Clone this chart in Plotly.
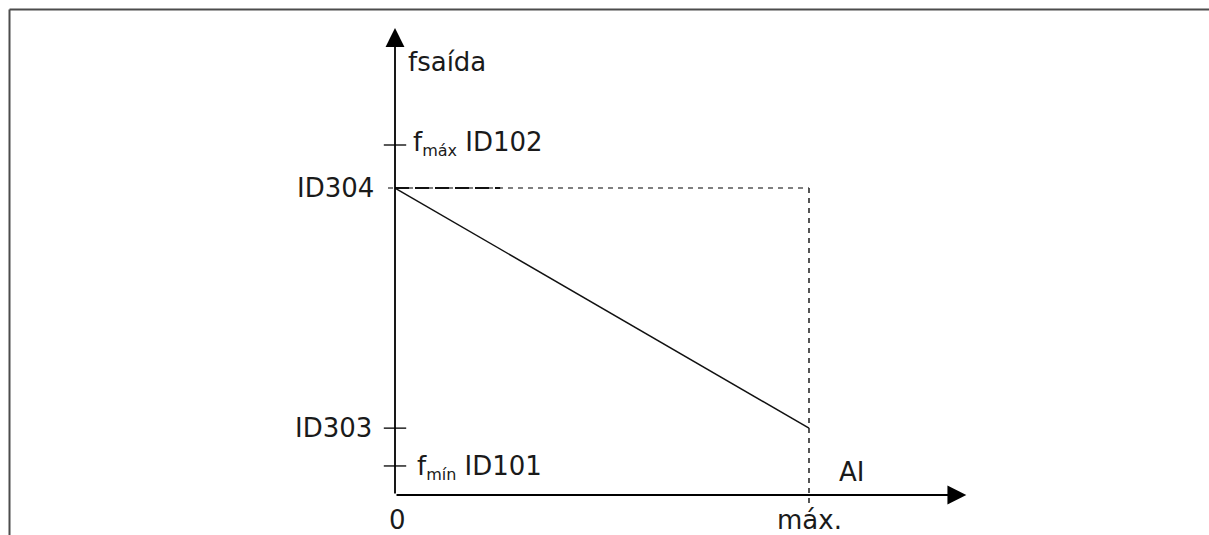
import plotly.graph_objects as go

# ---- data (arbitrary units) ----
x_points = [0, 1]                 # 0 and "máx." of the AI input
x_labels = ["0", "máx."]
y_fmin = 8.3                      # f_mín  ID101
y_id303 = 19.1                    # ID303
y_id304 = 87.7                    # ID304
y_fmax = 100.0                    # f_máx  ID102
line_y = [y_id304, y_id303]       # inverted scaling line
tick_values = [y_fmax, y_id303, y_fmin]
x_axis_end = 1.38
y_axis_top = 133.4
y_dash_bottom = -3.4
long_dash_end = 0.254

# ---- layout geometry (pixel mapping) ----
W, H = 1209, 535
px_x0, px_x1 = 395.0, 809.0       # pixel of x=0 and x=1
px_y0, px_y100 = 495.0, 145.0     # pixel of y=0 and y=100
sx = px_x1 - px_x0
sy = (px_y0 - px_y100) / 100.0
xr = [-px_x0 / sx, (W - px_x0) / sx]
ytop = px_y0 / sy
yr = [ytop - H / sy, ytop]

FONT = "DejaVu Sans"
FS = 26
TXT = "#1a1a1a"

fig = go.Figure()

# gray short-dash horizontal at ID304 (from just left of axis to max)
fig.add_trace(go.Scatter(x=[-7 / sx, x_points[1]], y=[y_id304, y_id304], mode="lines",
                         line=dict(color="#555555", width=1.6, dash="5px,5px"),
                         hoverinfo="skip", showlegend=False))
# vertical dashed line at max
fig.add_trace(go.Scatter(x=[x_points[1], x_points[1]], y=[y_id304, y_dash_bottom], mode="lines",
                         line=dict(color="#444444", width=1.8, dash="5px,5px"),
                         hoverinfo="skip", showlegend=False))
# black long-dash segment near axis
fig.add_trace(go.Scatter(x=[0, long_dash_end], y=[y_id304, y_id304], mode="lines",
                         line=dict(color="#111111", width=2, dash="14px,6px"),
                         hoverinfo="skip", showlegend=False))
# the characteristic line
fig.add_trace(go.Scatter(x=x_points, y=line_y, mode="lines",
                         line=dict(color="#111111", width=1.5),
                         hoverinfo="skip", showlegend=False))
# tick marks on the y axis
fig.add_trace(go.Scatter(x=[0] * len(tick_values), y=tick_values, mode="markers",
                         marker=dict(symbol="line-ew-open", size=16, color="#222222",
                                     line=dict(color="#222222", width=1.5)),
                         hoverinfo="skip", showlegend=False))

SUB = "<sub><span style='font-size:16px'>{}</span></sub>"

annotations = [
    # axes with arrowheads
    dict(x=0, y=y_axis_top, ax=0, ay=0, xref="x", yref="y", axref="x", ayref="y",
         text="", showarrow=True, arrowhead=2, arrowwidth=1.8, arrowsize=2.1,
         arrowcolor="#000000", standoff=0, startstandoff=0),
    dict(x=x_axis_end, y=0, ax=0, ay=0, xref="x", yref="y", axref="x", ayref="y",
         text="", showarrow=True, arrowhead=2, arrowwidth=1.8, arrowsize=2.1,
         arrowcolor="#000000", standoff=0, startstandoff=0),
    # labels
    dict(x=0, y=y_axis_top, text="fsaída", xanchor="left", yanchor="middle",
         xshift=11, yshift=-34),
    dict(x=0, y=y_fmax, text="f" + SUB.format("máx") + " ID102", xanchor="left",
         yanchor="middle", xshift=16, yshift=2),
    dict(x=0, y=y_id304, text="ID304", xanchor="right", yanchor="middle", xshift=-19),
    dict(x=0, y=y_id303, text="ID303", xanchor="right", yanchor="middle", xshift=-21),
    dict(x=0, y=y_fmin, text="f" + SUB.format("mín") + " ID101", xanchor="left",
         yanchor="middle", xshift=20, yshift=-2),
    dict(x=x_points[0], y=0, text=x_labels[0], xanchor="center", yanchor="top", yshift=-8, xshift=2),
    dict(x=x_points[1], y=0, text=x_labels[1], xanchor="center", yanchor="top", yshift=-8),
    dict(x=x_points[1], y=0, text="AI", xanchor="center", yanchor="middle", xshift=42, yshift=23),
]
for a in annotations:
    a.setdefault("xref", "x")
    a.setdefault("yref", "y")
    if a["text"]:
        a["showarrow"] = False
        a["font"] = dict(family=FONT, size=FS, color=TXT)
    fig.add_annotation(**a)

# frame: top and left border lines
fig.add_shape(type="line", xref="paper", yref="paper",
              x0=9.5 / W, x1=1.0, y0=1 - 9.5 / H, y1=1 - 9.5 / H,
              line=dict(color="#4d4d4d", width=2))
fig.add_shape(type="line", xref="paper", yref="paper",
              x0=9.5 / W, x1=9.5 / W, y0=1 - 9.5 / H, y1=0,
              line=dict(color="#4d4d4d", width=2))

fig.update_layout(
    width=W, height=H, margin=dict(l=0, r=0, t=0, b=0),
    paper_bgcolor="white", plot_bgcolor="white",
    xaxis=dict(visible=False, range=xr, fixedrange=True),
    yaxis=dict(visible=False, range=yr, fixedrange=True),
    font=dict(family=FONT, size=FS, color=TXT),
    showlegend=False,
)

fig.write_html("out.html", config={"displayModeBar": False},
               post_script="document.body.style.margin='0';document.body.style.overflow='hidden';")
